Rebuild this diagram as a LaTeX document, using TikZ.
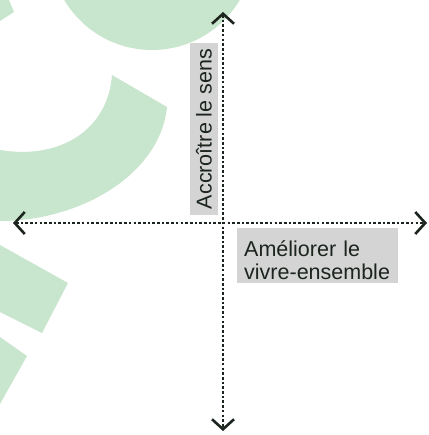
\documentclass[tikz,border=0pt]{standalone}
\usepackage{fontspec}
\usepackage{graphicx}
\newfontfamily\labelfont{Liberation Sans}
\usetikzlibrary{arrows.meta}
\definecolor{leaf}{RGB}{200,229,205}
\definecolor{ink}{RGB}{28,36,30}
\definecolor{tagfill}{RGB}{212,212,212}
\tikzset{
  barb/.tip={Straight Barb[length=10pt,width=22pt,line width=2.6pt]},
  axis/.style={ink,line width=2.8pt,dash pattern=on 2.6pt off 2.1pt,barb-barb},
  tag/.style={fill=tagfill,text=ink,inner sep=0pt,
    font=\labelfont\fontsize{21.5}{23}\selectfont}
}
\begin{document}
\begin{tikzpicture}[x=1pt,y=1pt]
	\useasboundingbox (0,-435) rectangle (428,0);
	% green shapes in the back
	\begin{scope}
		\clip (0,-435) rectangle (428,0);
		\fill[leaf] (152,52) circle[radius=102];
		\fill[leaf] (0,0) -- (9,0) -- (14,-12) -- (0,-21) -- cycle;
		\fill[leaf] (112,-75) -- (167,-107) .. controls (160,-175) and (80,-221) .. (0,-221)
			-- (0,-150) .. controls (60,-160) and (108,-130) .. (112,-75) -- cycle;
		\fill[leaf] (0,-245) -- (68,-283) -- (42,-333) -- (0,-312) -- cycle;
		\fill[leaf] (0,-337) -- (27,-356) -- (0,-404) -- cycle;
	\end{scope}
	% labels
	\node[tag,minimum width=28pt,minimum height=172pt,anchor=east] (sens) at (218,-129) {\rotatebox{90}{Accroître le sens}};
	\node[tag,align=left,text width=147pt,minimum height=55pt,inner xsep=7pt,anchor=north west] (vivre) at (237,-228) {\rule{0pt}{24pt}Améliorer le\\vivre-ensemble};
	% axes
	\coordinate (O) at (223,-223) ;
	\coordinate (N) at (223,-12) ;
	\coordinate (S) at (223,-431) ;
	\coordinate (W) at (13,-223) ;
	\coordinate (E) at (427,-223) ;
	\draw[axis] (W) -- (E) ;
	\draw[axis] (N) -- (S) ;
\end{tikzpicture}
\end{document}
